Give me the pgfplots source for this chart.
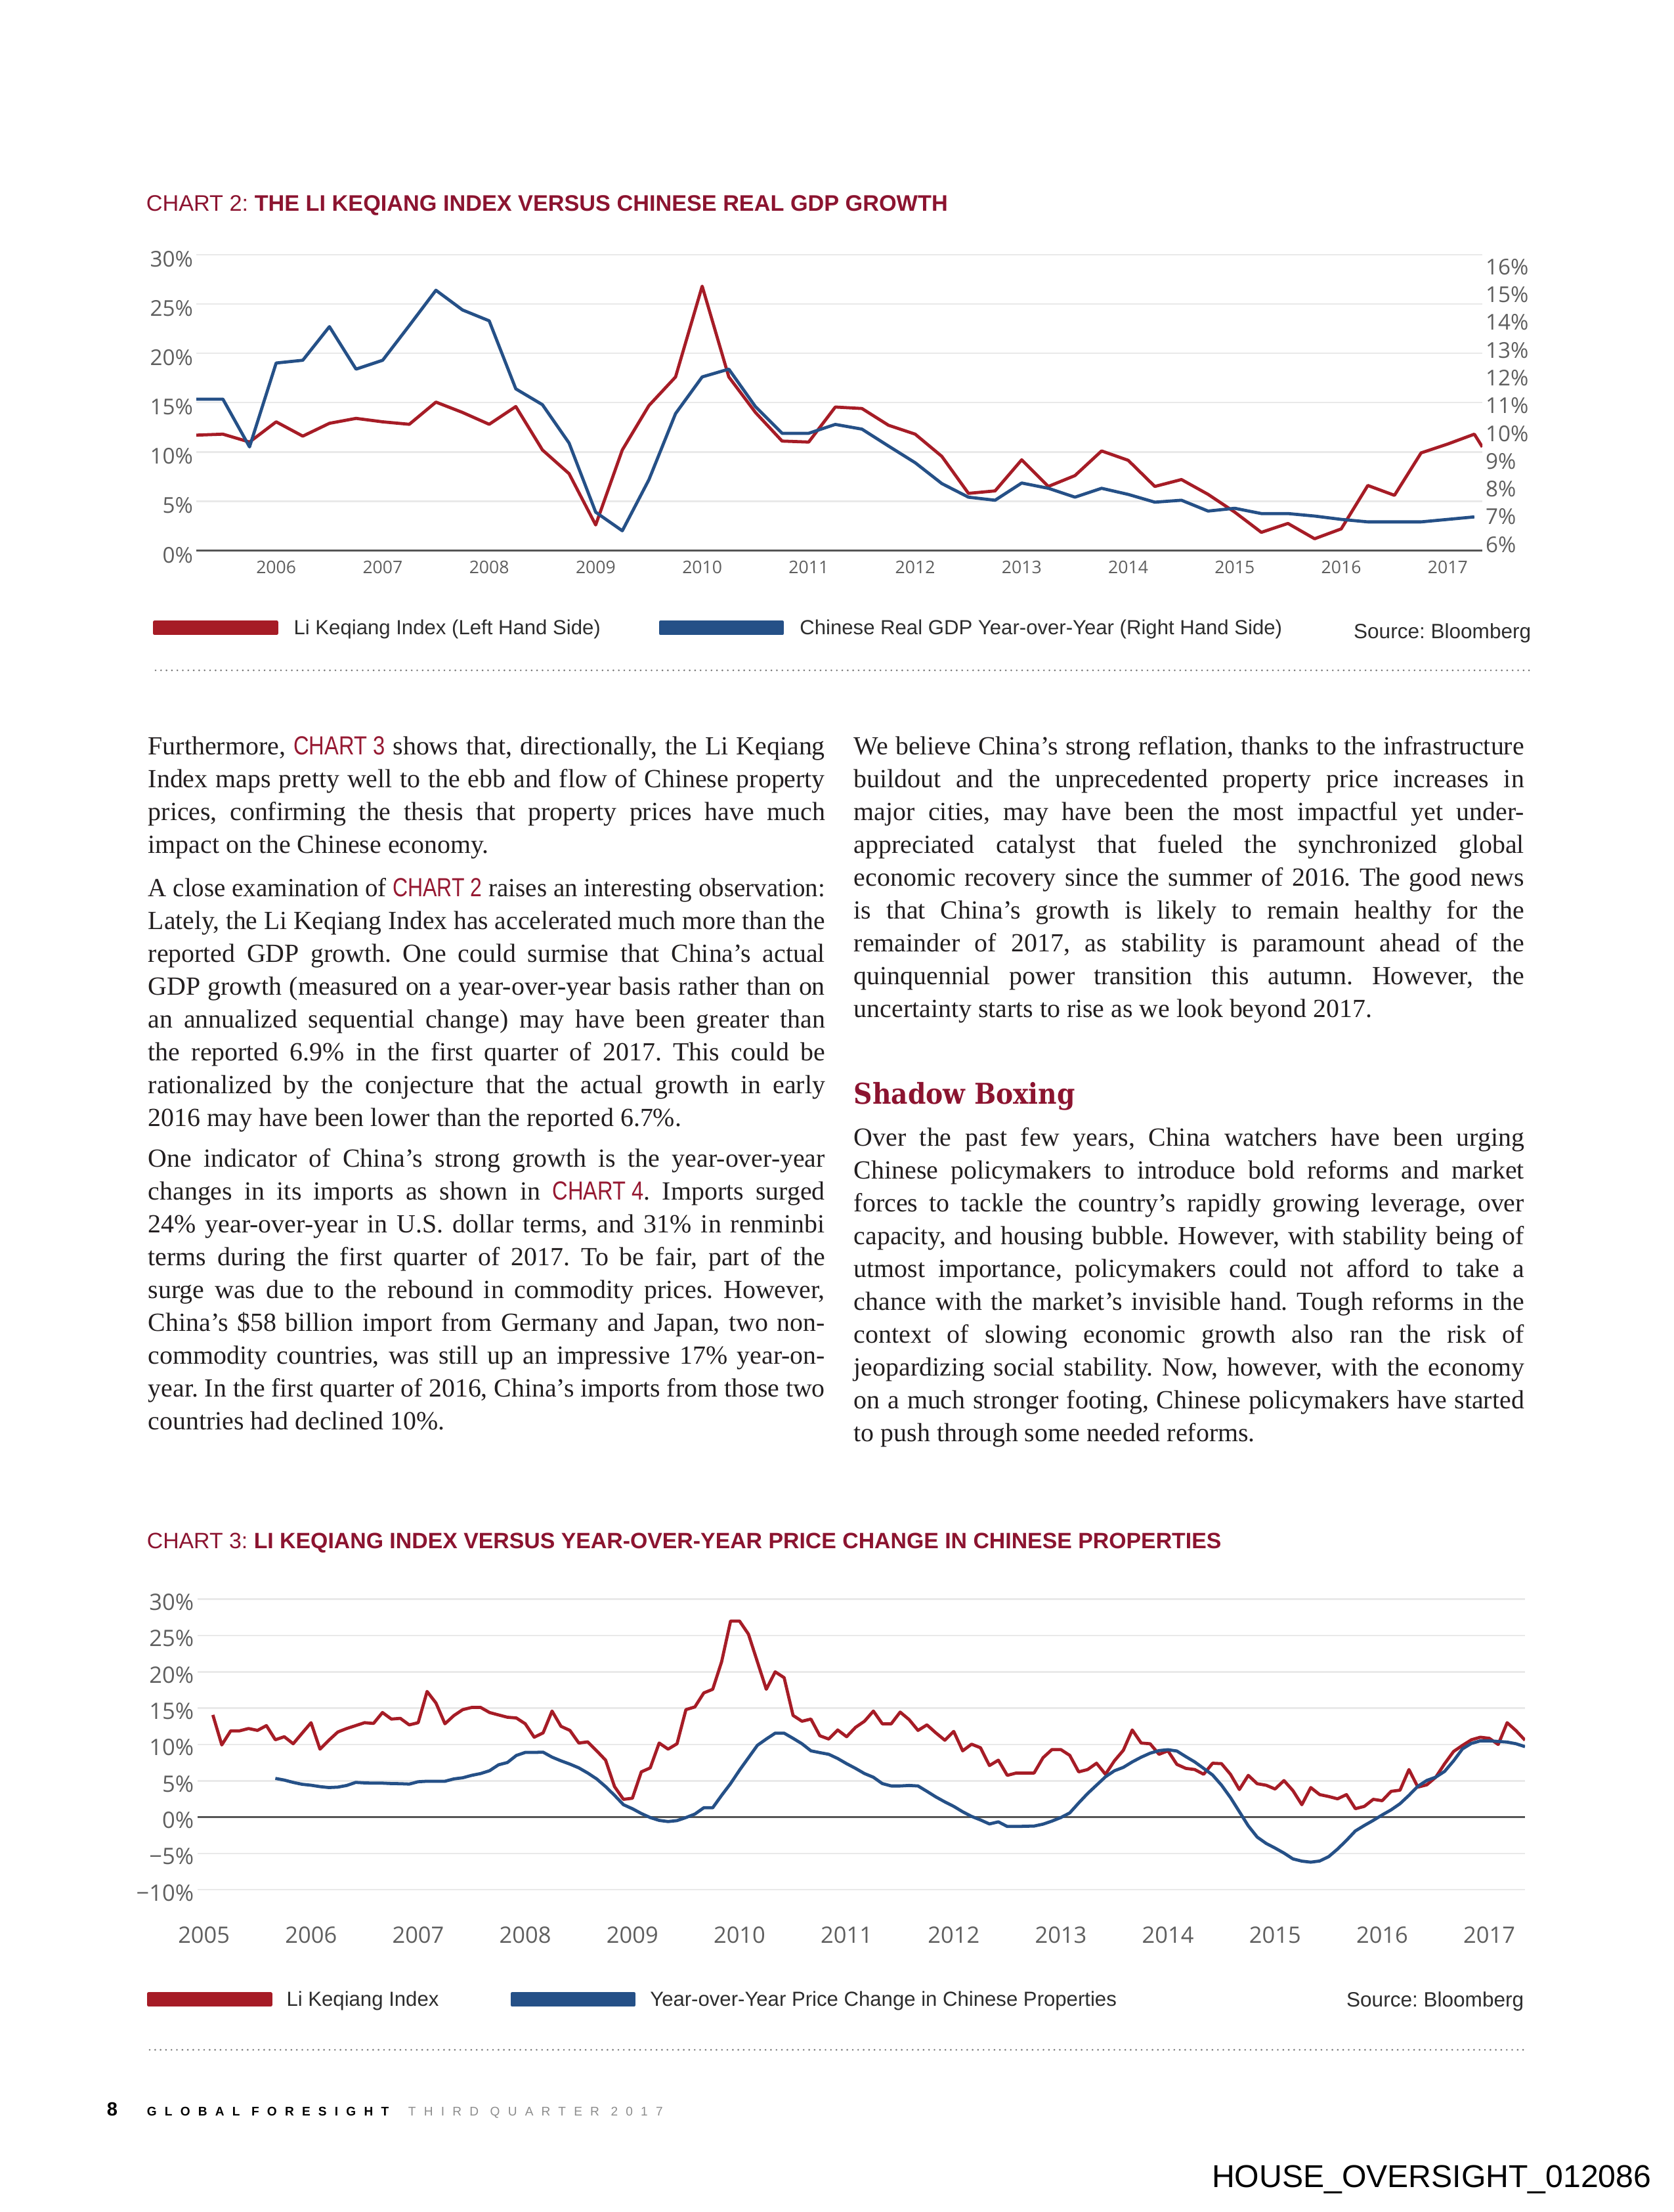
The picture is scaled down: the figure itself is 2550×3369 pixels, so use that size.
\documentclass[border=0pt]{standalone}
\usepackage{pgfplots}
\pgfplotsset{compat=1.18}
\usepackage{fontspec}
\usepackage{graphicx}
\setmainfont{Liberation Serif}
\newfontfamily\osans{Open Sans}
\newfontfamily\lsans{Liberation Sans}
\newfontfamily\slab{DejaVu Serif}
\newfontfamily\footsp[LetterSpace=64]{Liberation Sans}

% 1 px of the 300 dpi page
\newlength\px \setlength\px{0.24090pt}

\definecolor{lkred}{RGB}{166,28,38}
\definecolor{gdpblue}{RGB}{37,80,135}
\definecolor{titlered}{RGB}{140,20,48}
\definecolor{refred}{RGB}{150,25,50}
\definecolor{gridgray}{RGB}{233,233,233}
\definecolor{axisgray}{RGB}{85,85,85}
\definecolor{tickgray}{RGB}{95,95,95}
\definecolor{legtext}{RGB}{45,45,45}
\definecolor{bodytext}{RGB}{35,31,32}
\definecolor{dotgray}{RGB}{120,120,120}
\definecolor{footgray}{RGB}{140,140,140}

\frenchspacing
\newcommand\bodyfont{\fontsize{9.6}{12}\selectfont}
\newcommand\chref[1]{{\lsans\color{refred}\scalebox{0.82}[1]{#1}}}
\newsavebox\linebox
% justified line: stretch spaces, or squeeze if too long
\newcommand\jl[2]{\sbox\linebox{#2}\ifdim\wd\linebox>#1\relax\resizebox{#1}{\ht\linebox}{\usebox\linebox}\else\makebox[#1][s]{#2}\fi}
\newcommand\bodyL[2]{\node[anchor=base west,inner sep=0pt,font=\bodyfont,text=bodytext] at (225,3369-#1) {\jl{1031\px}{#2}};}
\newcommand\bodyLend[2]{\node[anchor=base west,inner sep=0pt,font=\bodyfont,text=bodytext] at (225,3369-#1) {#2};}
\newcommand\bodyR[2]{\node[anchor=base west,inner sep=0pt,font=\bodyfont,text=bodytext] at (1300,3369-#1) {\jl{1021\px}{#2}};}
\newcommand\bodyRend[2]{\node[anchor=base west,inner sep=0pt,font=\bodyfont,text=bodytext] at (1300,3369-#1) {#2};}

\tikzset{dots/.style={dotgray, line width=0.7pt, line cap=round, dash pattern=on 0pt off 2pt}}

\pgfplotsset{
  pagechart/.style={
    scale only axis,
    axis line style={draw=none},
    tick style={draw=none},
    ymajorgrids,
    grid style={gridgray, line width=0.6pt},
    extra y tick style={grid=major, grid style={axisgray, line width=0.7pt}},
    legend style={draw=none, fill=none, inner sep=0pt, legend columns=2,
      font=\lsans\fontsize{7.5}{9}\selectfont, text=legtext,
      nodes={inner sep=0pt},
      /tikz/every even column/.append style={column sep=0pt}},
    legend cell align=left,
    legend image code/.code={\fill[##1] (0pt,-1.6pt) rectangle (186\px,2.5pt);},
  },
  lk/.style={lkred, line width=1.15pt, line join=round},
  gdp/.style={gdpblue, line width=1.15pt, line join=round},
}

\begin{document}
\begin{tikzpicture}[x=1\px,y=1\px]
\fill[white] (0,0) rectangle (2550,3369);
\coordinate (ax2) at (299,2530.4);
\coordinate (ax3) at (301,490.8);

% ---------------- CHART 2 ----------------
\node[anchor=base west,inner sep=0pt,font=\lsans\fontsize{8.25}{9.6}\selectfont,text=titlered]
  at (222,3369-321.5) {CHART 2: \textbf{THE LI KEQIANG INDEX VERSUS CHINESE REAL GDP GROWTH}};

\begin{axis}[pagechart,
  at={(ax2)}, anchor=south west,
  width=1959\px, height=450.8\px,
  xmin=0, xmax=48.3, ymin=0, ymax=30,
  ytick={5,10,15,20,25,30},
  yticklabels={5\%,10\%,15\%,20\%,25\%,30\%},
  extra y ticks={0}, extra y tick labels={0\%},
  xtick={3,7,11,15,19,23,27,31,35,39,43,47},
  xticklabels={2006,2007,2008,2009,2010,2011,2012,2013,2014,2015,2016,2017},
  xticklabel style={font=\osans\fontsize{6.4}{7}\selectfont, text=tickgray, inner sep=0pt, anchor=north, yshift=-3.6pt},
  yticklabel style={font=\osans\fontsize{8}{9}\selectfont, text=tickgray, inner sep=0pt, anchor=east, xshift=-1pt, yshift=-1.6pt},
  legend style={at={(-0.0342,-0.2649)}, anchor=west,
    /tikz/every odd column/.append style={column sep=24\px}},
]
\addplot[lk] coordinates {
 (0,11.7) (1,11.8) (2,11.0) (3,13.05) (4,11.6) (5,12.9) (6,13.4) (7,13.05) (8,12.8)
 (9,15.05) (10,14.0) (11,12.8) (12,14.6) (13,10.2) (14,7.8) (15,2.6) (16,10.2)
 (17,14.7) (18,17.6) (19,26.8) (20,17.6) (21,14.0) (22,11.1) (23,11.0) (24,14.55)
 (25,14.4) (26,12.7) (27,11.8) (28,9.55) (29,5.8) (30,6.05) (31,9.2) (32,6.5)
 (33,7.6) (34,10.1) (35,9.15) (36,6.5) (37,7.2) (38,5.7) (39,3.9) (40,1.85)
 (41,2.75) (42,1.2) (43,2.2) (44,6.6) (45,5.6) (46,9.9) (47,10.8) (48,11.8) (48.3,10.5)
};
\addlegendentry{\makebox[556\px][l]{Li Keqiang Index (Left Hand Side)}}
\addlegendimage{gdp}
\addlegendentry{Chinese Real GDP Year-over-Year (Right Hand Side)}
\end{axis}

\begin{axis}[
  scale only axis,
  at={(ax2)}, anchor=south west,
  width=1959\px, height=450.8\px,
  xmin=0, xmax=48.3, ymin=5.627, ymax=16.284,
  hide x axis,
  axis y line*=right,
  y axis line style={draw=none},
  ytick style={draw=none},
  ytick={6,7,8,9,10,11,12,13,14,15,16},
  yticklabels={6\%,7\%,8\%,9\%,10\%,11\%,12\%,13\%,14\%,15\%,16\%},
  yticklabel style={font=\osans\fontsize{8}{9}\selectfont, text=tickgray, inner sep=0pt, anchor=west, xshift=1pt, yshift=-1.6pt},
]
\addplot[gdp] coordinates {
 (0,11.08) (1,11.08) (2,9.36) (3,12.38) (4,12.48) (5,13.69) (6,12.16) (7,12.48)
 (8,13.73) (9,15.00) (10,14.29) (11,13.90) (12,11.45) (13,10.88) (14,9.50) (15,7.01)
 (16,6.34) (17,8.18) (18,10.56) (19,11.88) (20,12.16) (21,10.81) (22,9.85) (23,9.85)
 (24,10.17) (25,10.00) (26,9.39) (27,8.79) (28,8.04) (29,7.55) (30,7.44) (31,8.06)
 (32,7.87) (33,7.55) (34,7.87) (35,7.65) (36,7.37) (37,7.44) (38,7.05) (39,7.15)
 (40,6.96) (41,6.96) (42,6.87) (43,6.75) (44,6.66) (45,6.66) (46,6.66) (47,6.75) (48,6.84)
};
\end{axis}

\node[anchor=base east,inner sep=0pt,font=\lsans\fontsize{7.6}{9}\selectfont,text=legtext]
  at (2333,3369-973) {Source: Bloomberg};
\draw[dots] (237,3369-1021) -- (2333,3369-1021);

% ---------------- BODY TEXT ----------------
\bodyL{1150}{Furthermore, \chref{CHART 3} shows that, directionally, the Li Keqiang}
\bodyL{1200}{Index maps pretty well to the ebb and flow of Chinese property}
\bodyL{1250}{prices, confirming the thesis that property prices have much}
\bodyLend{1300}{impact on the Chinese economy.}

\bodyL{1366}{A close examination of \chref{CHART 2} raises an interesting observation:}
\bodyL{1416}{Lately, the Li Keqiang Index has accelerated much more than the}
\bodyL{1466}{reported GDP growth. One could surmise that China’s actual}
\bodyL{1516}{GDP growth (measured on a year-over-year basis rather than on}
\bodyL{1566}{an annualized sequential change) may have been greater than}
\bodyL{1616}{the reported 6.9\% in the first quarter of 2017. This could be}
\bodyL{1666}{rationalized by the conjecture that the actual growth in early}
\bodyLend{1716}{2016 may have been lower than the reported 6.7\%.}

\bodyL{1778}{One indicator of China’s strong growth is the year-over-year}
\bodyL{1828}{changes in its imports as shown in \chref{CHART 4}. Imports surged}
\bodyL{1878}{24\% year-over-year in U.S. dollar terms, and 31\% in renminbi}
\bodyL{1928}{terms during the first quarter of 2017. To be fair, part of the}
\bodyL{1978}{surge was due to the rebound in commodity prices. However,}
\bodyL{2028}{China’s \$58 billion import from Germany and Japan, two non-}
\bodyL{2078}{commodity countries, was still up an impressive 17\% year-on-}
\bodyL{2128}{year. In the first quarter of 2016, China’s imports from those two}
\bodyLend{2178}{countries had declined 10\%.}

\bodyR{1150}{We believe China’s strong reflation, thanks to the infrastructure}
\bodyR{1200}{buildout and the unprecedented property price increases in}
\bodyR{1250}{major cities, may have been the most impactful yet under-}
\bodyR{1300}{appreciated catalyst that fueled the synchronized global}
\bodyR{1350}{economic recovery since the summer of 2016. The good news}
\bodyR{1400}{is that China’s growth is likely to remain healthy for the}
\bodyR{1450}{remainder of 2017, as stability is paramount ahead of the}
\bodyR{1500}{quinquennial power transition this autumn. However, the}
\bodyRend{1550}{uncertainty starts to rise as we look beyond 2017.}

\node[anchor=base west,inner sep=0pt,font=\slab\bfseries\fontsize{10.5}{12}\selectfont,text=titlered]
  at (1300,3369-1682) {\scalebox{0.9}[1]{Shadow Boxing}};

\bodyR{1746}{Over the past few years, China watchers have been urging}
\bodyR{1796}{Chinese policymakers to introduce bold reforms and market}
\bodyR{1846}{forces to tackle the country’s rapidly growing leverage, over}
\bodyR{1896}{capacity, and housing bubble. However, with stability being of}
\bodyR{1946}{utmost importance, policymakers could not afford to take a}
\bodyR{1996}{chance with the market’s invisible hand. Tough reforms in the}
\bodyR{2046}{context of slowing economic growth also ran the risk of}
\bodyR{2096}{jeopardizing social stability. Now, however, with the economy}
\bodyR{2146}{on a much stronger footing, Chinese policymakers have started}
\bodyRend{2196}{to push through some needed reforms.}

% ---------------- CHART 3 ----------------
\node[anchor=base west,inner sep=0pt,font=\lsans\fontsize{8.15}{9.6}\selectfont,text=titlered]
  at (223,3369-2358.5) {CHART 3: \textbf{LI KEQIANG INDEX VERSUS YEAR-OVER-YEAR PRICE CHANGE IN CHINESE PROPERTIES}};

\begin{axis}[pagechart,
  at={(ax3)}, anchor=south west,
  width=2022\px, height=442.5\px,
  xmin=-0.71, xmax=148, ymin=-10, ymax=30,
  ytick={-10,-5,5,10,15,20,25,30},
  yticklabels={−10\%,−5\%,5\%,10\%,15\%,20\%,25\%,30\%},
  extra y ticks={0}, extra y tick labels={0\%},
  xtick={0,12,24,36,48,60,72,84,96,108,120,132,144},
  xticklabels={2005,2006,2007,2008,2009,2010,2011,2012,2013,2014,2015,2016,2017},
  xticklabel style={font=\osans\fontsize{8.3}{9}\selectfont, text=tickgray, inner sep=0pt, anchor=north, yshift=-13.3pt},
  yticklabel style={font=\osans\fontsize{8.3}{9}\selectfont, text=tickgray, inner sep=0pt, anchor=east, xshift=-1.2pt, yshift=-1.1pt},
  legend style={at={(-0.0386,-0.3815)}, anchor=west,
    /tikz/every odd column/.append style={column sep=22\px}},
]
\addplot[lk] coordinates {
 (1,14.07) (2,9.94) (3,11.88) (4,11.88) (5,12.2) (6,11.94) (7,12.6) (8,10.65) (9,11.07)
 (10,10.1) (11,11.56) (12,13.0) (13,9.36) (14,10.59) (15,11.72) (16,12.2) (17,12.6)
 (18,13.0) (19,12.9) (20,14.4) (21,13.5) (22,13.6) (23,12.7) (24,13.0) (25,17.3)
 (26,15.7) (27,12.85) (28,13.98) (29,14.8) (30,15.1) (31,15.1) (32,14.4) (33,14.07)
 (34,13.75) (35,13.65) (36,12.85) (37,11.0) (38,11.6) (39,14.6) (40,12.5) (41,11.94)
 (42,10.2) (43,10.36) (44,9.13) (45,7.84) (46,4.2) (47,2.45) (48,2.6) (49,6.23)
 (50,6.78) (51,10.2) (52,9.36) (53,10.1) (54,14.8) (55,15.17) (56,17.1) (57,17.6)
 (58,21.4) (59,27.0) (60,27.0) (61,25.2) (62,21.4) (63,17.6) (64,20.0) (65,19.2)
 (66,14.0) (67,13.2) (68,13.5) (69,11.2) (70,10.75) (71,12.0) (72,11.07) (73,12.36)
 (74,13.2) (75,14.6) (76,12.85) (77,12.85) (78,14.46) (79,13.43) (80,11.94) (81,12.7)
 (82,11.6) (83,10.59) (84,11.8) (85,9.13) (86,10.04) (87,9.55) (88,7.1) (89,7.84)
 (90,5.75) (91,6.07) (92,6.07) (93,6.07) (94,8.17) (95,9.3) (96,9.3) (97,8.5)
 (98,6.23) (99,6.55) (100,7.42) (101,5.9) (102,7.75) (103,9.2) (104,12.0) (105,10.2)
 (106,10.1) (107,8.65) (108,9.13) (109,7.26) (110,6.71) (111,6.55) (112,5.9) (113,7.42)
 (114,7.36) (115,5.9) (116,3.8) (117,5.75) (118,4.6) (119,4.39) (120,3.87) (121,5.03)
 (122,3.65) (123,1.71) (124,4.07) (125,3.1) (126,2.84) (127,2.52) (128,3.1) (129,1.16)
 (130,1.48) (131,2.45) (132,2.26) (133,3.55) (134,3.71) (135,6.55) (136,4.13) (137,4.45)
 (138,5.49) (139,7.36) (140,9.04) (141,9.88) (142,10.65) (143,11.0) (144,10.85)
 (145,10.0) (146,13.0) (147,11.9) (148,10.59)
};
\addlegendentry{\makebox[341\px][l]{Li Keqiang Index}}
\addplot[gdp] coordinates {
 (8,5.33) (9,5.10) (10,4.78) (11,4.52) (12,4.39) (13,4.20) (14,4.07) (15,4.13) (16,4.36)
 (17,4.78) (18,4.71) (19,4.68) (20,4.68) (21,4.62) (22,4.60) (23,4.55) (24,4.87)
 (25,4.94) (26,4.94) (27,4.94) (28,5.26) (29,5.42) (30,5.75) (31,6.00) (32,6.39)
 (33,7.20) (34,7.52) (35,8.49) (36,8.91) (37,8.91) (38,8.94) (39,8.26) (40,7.75)
 (41,7.30) (42,6.78) (43,6.07) (44,5.26) (45,4.20) (46,3.00) (47,1.71) (48,1.16)
 (49,0.50) (50,-0.06) (51,-0.45) (52,-0.61) (53,-0.48) (54,-0.06) (55,0.42) (56,1.29)
 (57,1.29) (58,3.00) (59,4.62) (60,6.46) (61,8.17) (62,9.88) (63,10.75) (64,11.56)
 (65,11.56) (66,10.85) (67,10.10) (68,9.13) (69,8.88) (70,8.65) (71,8.07) (72,7.36)
 (73,6.71) (74,6.00) (75,5.49) (76,4.62) (77,4.29) (78,4.29) (79,4.36) (80,4.29)
 (81,3.55) (82,2.78) (83,2.10) (84,1.48) (85,0.74) (86,0.10) (87,-0.39) (88,-0.94)
 (89,-0.65) (90,-1.29) (91,-1.29) (92,-1.26) (93,-1.23) (94,-0.97) (95,-0.55) (96,-0.06)
 (97,0.58) (98,1.95) (99,3.25) (100,4.40) (101,5.55) (102,6.38) (103,6.85) (104,7.60)
 (105,8.25) (106,8.80) (107,9.16) (108,9.28) (109,9.10) (110,8.33) (111,7.60) (112,6.71)
 (113,5.80) (114,4.40) (115,2.70) (116,0.75) (117,-1.20) (118,-2.75) (119,-3.62)
 (120,-4.26) (121,-4.95) (122,-5.75) (123,-6.06) (124,-6.20) (125,-6.04) (126,-5.45)
 (127,-4.40) (128,-3.20) (129,-1.90) (130,-1.15) (131,-0.45) (132,0.30) (133,1.00)
 (134,1.85) (135,3.00) (136,4.25) (137,5.05) (138,5.50) (139,6.30) (140,7.75) (141,9.40)
 (142,10.15) (143,10.50) (144,10.49) (145,10.42) (146,10.33) (147,10.10) (148,9.70)
};
\addlegendentry{Year-over-Year Price Change in Chinese Properties}
\end{axis}

\node[anchor=base east,inner sep=0pt,font=\lsans\fontsize{7.6}{9}\selectfont,text=legtext]
  at (2322,3369-3057) {Source: Bloomberg};
\draw[dots] (228,3369-3122) -- (2322,3369-3122);

% ---------------- FOOTER ----------------
\node[anchor=base west,inner sep=0pt,font=\lsans\bfseries\fontsize{7}{8}\selectfont]
  at (162,3369-3223) {8};
\node[anchor=base west,inner sep=0pt,font=\footsp\fontsize{4.6}{5}\selectfont]
  at (223,3369-3223) {\textbf{GLOBAL FORESIGHT} {\color{footgray}THIRD QUARTER 2017}};
\node[anchor=base east,inner sep=0pt,font=\lsans\fontsize{11.6}{13}\selectfont]
  at (2516,3369-3331) {HOUSE\_OVERSIGHT\_012086};
\end{tikzpicture}
\end{document}
